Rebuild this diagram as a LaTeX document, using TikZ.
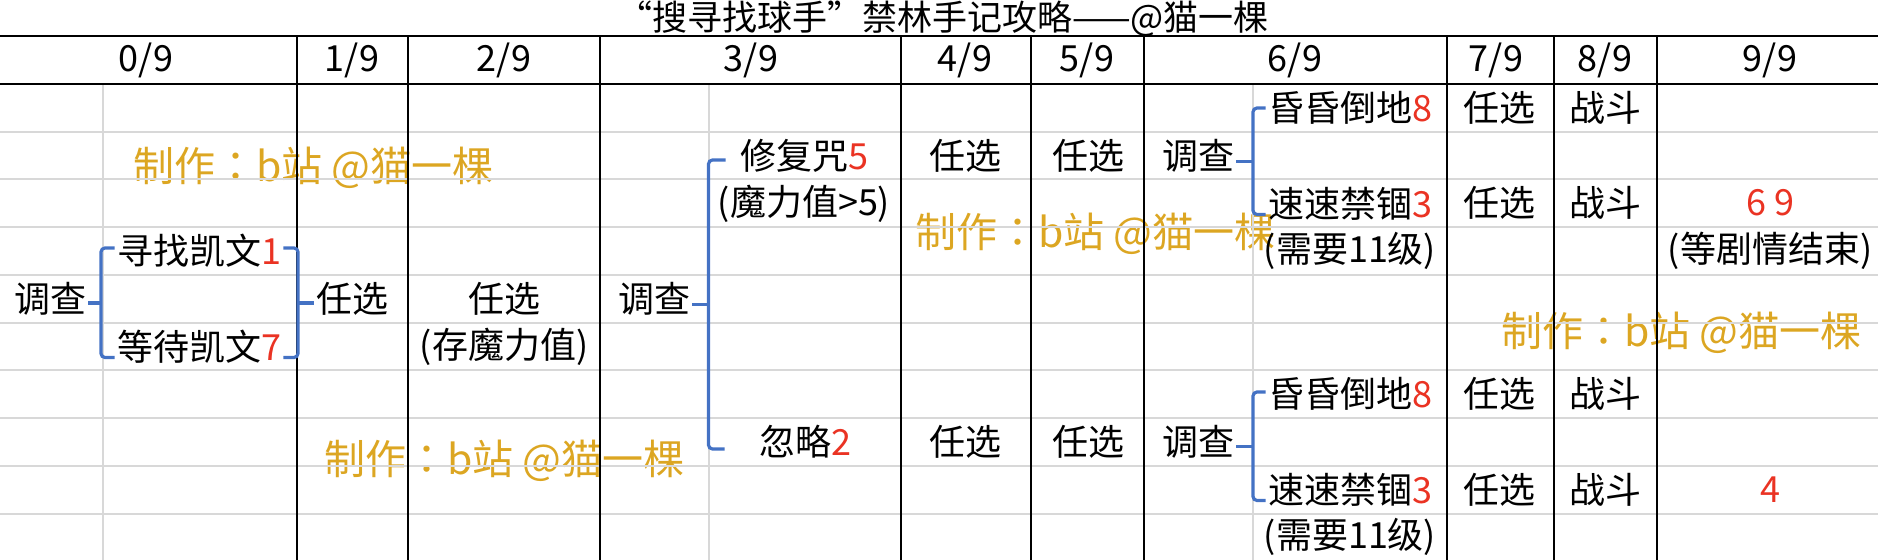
\documentclass[tikz,border=0pt]{standalone}
\usepackage{fontspec}
\setmainfont{Noto Sans CJK SC}
\newfontfamily\tcfont{Noto Sans CJK TC}
\usepackage{xcolor}
\usepackage{tikz}
\usetikzlibrary{positioning,calc}

\definecolor{numred}{RGB}{234,51,35}
\definecolor{brkblue}{RGB}{68,114,196}
\definecolor{markgold}{RGB}{220,166,34}
\definecolor{cellgray}{RGB}{216,216,216}
\newcommand{\rednum}[1]{\textcolor{numred}{#1}}

\begin{document}
\begin{tikzpicture}[x=0.5pt, y=-0.5pt, node distance=23.875pt,
  every node/.style={inner sep=1pt, font=\fontsize{18}{20}\selectfont},
  brk/.style={draw=brkblue, line width=1.6pt, rounded corners=2pt},
  wmark/.style={anchor=west, text=markgold, font=\tcfont\fontsize{20.5}{22}\selectfont},
  cellline/.style={draw=cellgray, line width=1pt},
  colline/.style={draw=black, line width=1pt}]
  \useasboundingbox (0,0) rectangle (1878,560);

  \node[wmark] (wm1) at (131,168) {制作：b站 @猫一棵};
  \node[wmark] (wm2) at (913,234) {制作：b站 @猫一棵};
  \node[wmark] (wm3) at (322,461) {制作：b站 @猫一棵};
  \node[wmark] (wm4) at (1499,333) {制作：b站 @猫一棵};

  \foreach \r in {1,...,9}
    \draw[cellline] (0,84+47.75*\r) -- (1878,84+47.75*\r);
  \foreach \c in {103,708.5,1253}
    \draw[cellline] (\c,84) -- (\c,560);
  \foreach \c in {296.5,407.5,600,900.5,1031,1143.5,1446.5,1554,1657}
    \draw[colline] (\c,36) -- (\c,560);
  \draw[colline] (0,36) -- (1878,36);
  \draw[colline] (0,84) -- (1878,84);

  \node[anchor=base, font=\fontsize{17.5}{20}\selectfont] (ttl) at (943,31) {“搜寻找球手”禁林手记攻略——@猫一棵};

  \node (h0) at (146,60) {0/9};
  \node (h1) at (352,60) {1/9};
  \node (h2) at (504,60) {2/9};
  \node (h3) at (751,60) {3/9};
  \node (h4) at (965,60) {4/9};
  \node (h5) at (1087,60) {5/9};
  \node (h6) at (1295,60) {6/9};
  \node (h7) at (1496,60) {7/9};
  \node (h8) at (1605,60) {8/9};
  \node (h9) at (1770,60) {9/9};

  \node (tc0) at (50,299) {调查};
  \node (xz) at (199,251) {寻找凯文\rednum{1}};
  \node[node distance=47.75pt, below of=xz] (dd) {等待凯文\rednum{7}};
  \node (rx1) at (352,299) {任选};
  \node (rx2) at (504,299) {任选};
  \node[below of=rx2] (cml) {(存魔力值)};

  \node (tc3) at (654,299) {调查};
  \node (xfz) at (804,156) {修复咒\rednum{5}};
  \node[below of=xfz] (mlz) {(魔力值>5)};
  \node (hl) at (805,442) {忽略\rednum{2}};
  \node (rx4a) at (965,156) {任选};
  \node (rx4b) at (965,442) {任选};
  \node (rx5a) at (1088,156) {任选};
  \node (rx5b) at (1088,442) {任选};

  \node (tc6a) at (1198,156) {调查};
  \node (hh1) at (1350,108) {昏昏倒地\rednum{8}};
  \node[node distance=47.75pt, below of=hh1] (ss1) {速速禁锢\rednum{3}};
  \node[below of=ss1] (lv1) {(需要11级)};
  \node (tc6b) at (1198,442) {调查};
  \node (hh2) at (1350,394) {昏昏倒地\rednum{8}};
  \node[node distance=47.75pt, below of=hh2] (ss2) {速速禁锢\rednum{3}};
  \node[below of=ss2] (lv2) {(需要11级)};

  \node (rx7a) at (1499,108) {任选};
  \node (rx7b) at (1499,203) {任选};
  \node (rx7c) at (1499,394) {任选};
  \node (rx7d) at (1499,490) {任选};
  \node (zd1) at (1605,108) {战斗};
  \node (zd2) at (1605,203) {战斗};
  \node (zd3) at (1605,394) {战斗};
  \node (zd4) at (1605,490) {战斗};
  \node[text=numred] (e69) at (1770,203) {6 9};
  \node[below of=e69] (jq) {(等剧情结束)};
  \node[text=numred] (e4) at (1770,490) {4};

  \coordinate (b1) at (101,303);
  \coordinate (b2) at (298,303);
  \coordinate (b3) at (708.5,304.5);
  \coordinate (b4) at (1253,161.5);
  \coordinate (b5) at (1253,446.5);

  \draw[brk] ([yshift=1.5pt]xz.west) -| (b1) |- ([yshift=-5.5pt]dd.west);
  \draw[brk] (b1 -| tc0.east) -- (b1);
  \draw[brk] ([yshift=1.5pt]xz.east) -| (b2) |- ([yshift=-5.5pt]dd.east);
  \draw[brk] (b2) -- (b2 -| rx1.west);
  \draw[brk] ($(xfz.west -| b3)+(17,4)$) -| (b3) |- ($(hl.west -| b3)+(16,7)$);
  \draw[brk] (b3 -| tc3.east) -- (b3);
  \draw[brk] (hh1.west) -| (b4) |- ([yshift=-5.5pt]ss1.west);
  \draw[brk] (b4 -| tc6a.east) -- (b4);
  \draw[brk] ([yshift=1pt]hh2.west) -| (b5) |- ([yshift=-5.5pt]ss2.west);
  \draw[brk] (b5 -| tc6b.east) -- (b5);
\end{tikzpicture}
\end{document}
